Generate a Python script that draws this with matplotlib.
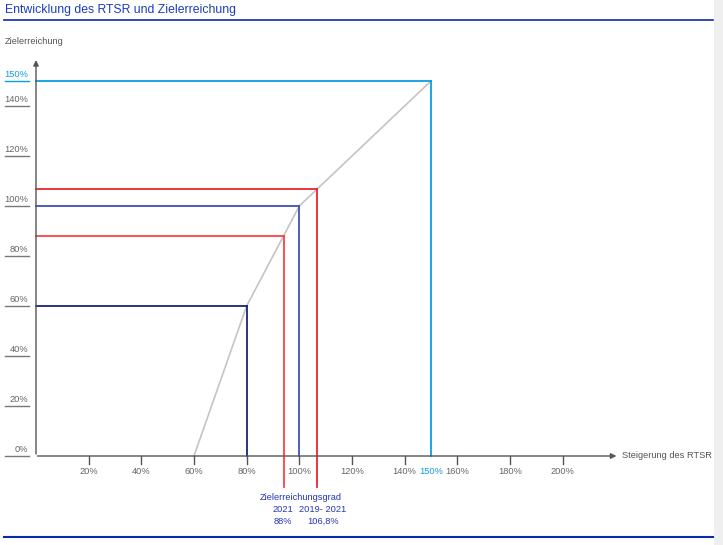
import matplotlib.pyplot as plt
from matplotlib.lines import Line2D

plt.rcParams['font.family'] = ['Liberation Sans', 'DejaVu Sans']

W, H = 723, 545

# RTSR curve (Steigerung des RTSR -> Zielerreichung)
curve_x = [60, 80, 100, 150]
curve_y = [0, 60, 100, 150]

# marked points on the curve
mark_x = [80, 94, 100, 106.8, 150]
mark_y = [60, 88, 100, 106.8, 150]
mark_colors = ["#1a237e", "#ff4040", "#3f51b5", "#e8262c", "#0a9ee0"]
mark_below = [False, True, False, True, False]

y_ticks = [0, 20, 40, 60, 80, 100, 120, 140]
x_ticks = [20, 40, 60, 80, 100, 120, 140, 160, 180, 200]
highlight = 150

fig = plt.figure(figsize=(W / 100, H / 100), dpi=100)
fig.patch.set_facecolor("white")


def fx(px):
    return px / W


def fy(py):
    return 1 - py / H


# axes: 0% at x=36px, 2.633 px per %; 0% at y=456px, 2.5 px per %
x0, y0 = 36, 456
sx, sy = 2.633, 2.5
xmax, ymax = 220, 160
ax = fig.add_axes([fx(x0), fy(y0), xmax * sx / W, ymax * sy / H])
ax.set_xlim(0, xmax)
ax.set_ylim(0, ymax)
ax.axis("off")

fs = 6.7

# the curve
ax.plot(curve_x, curve_y, color="#c4c4c4", lw=1.2, clip_on=False)

# guide lines for each marked point
for x, y, c, below in zip(mark_x, mark_y, mark_colors, mark_below):
    ax.plot([0, x], [y, y], color=c, lw=1.3, clip_on=False)
    ybot = -12.4 if below else 0
    ax.plot([x, x], [ybot, y], color=c, lw=1.3, clip_on=False)

# axes with arrows
axis_col = "#555555"
ax.annotate("", xy=(xmax + 1.5, 0), xytext=(-0.5, 0),
            arrowprops=dict(arrowstyle="-|>", color=axis_col, lw=1, mutation_scale=8),
            annotation_clip=False)
ax.annotate("", xy=(0, 159.5), xytext=(0, -0.3),
            arrowprops=dict(arrowstyle="-|>", color=axis_col, lw=1, mutation_scale=8),
            annotation_clip=False)

# x ticks
for t in x_ticks:
    ax.plot([t, t], [0, -3], color=axis_col, lw=1, clip_on=False)
    ax.text(t, -6, f"{t}%", ha="center", va="center", fontsize=fs, color="#666666")
ax.text(highlight, -6, f"{highlight}%", ha="center", va="center", fontsize=fs,
        color="#0a9ee0")

# y ticks: label above a short underline left of the axis
for t in y_ticks:
    py = y0 - t * sy
    fig.add_artist(Line2D([fx(5), fx(29)], [fy(py), fy(py)], color="#777777", lw=1))
    fig.text(fx(28), fy(py - 6.5), f"{t}%", ha="right", va="center", fontsize=fs,
             color="#666666")
py = y0 - highlight * sy
fig.add_artist(Line2D([fx(5), fx(29)], [fy(py), fy(py)], color="#0a9ee0", lw=1))
fig.text(fx(28), fy(py - 6.5), f"{highlight}%", ha="right", va="center", fontsize=fs,
         color="#0a9ee0")

# axis titles
fig.text(fx(5), fy(42), "Zielerreichung", ha="left", va="center", fontsize=fs,
         color="#555555")
fig.text(fx(622), fy(455), "Steigerung des RTSR", ha="left", va="center", fontsize=fs,
         color="#555555")

# legend-ish text under the axis
lab_col = "#2536b8"
fig.text(fx(301), fy(497), "Zielerreichungsgrad", ha="center", va="center",
         fontsize=fs, color=lab_col)
fig.text(fx(283), fy(510), "2021", ha="center", va="center", fontsize=fs, color=lab_col)
fig.text(fx(283), fy(521), "88%", ha="center", va="center", fontsize=fs, color=lab_col)
fig.text(fx(323), fy(510), "2019- 2021", ha="center", va="center", fontsize=fs,
         color=lab_col)
fig.text(fx(323), fy(521), "106,8%", ha="center", va="center", fontsize=fs,
         color=lab_col)

# title and frame lines
fig.text(fx(5), fy(10), "Entwicklung des RTSR und Zielerreichung", ha="left",
         va="center", fontsize=8.8, color="#1a3cc0")
fig.add_artist(Line2D([fx(4), fx(713)], [fy(20), fy(20)], color="#0a2aa8", lw=1.2))
fig.add_artist(Line2D([fx(4), fx(713)], [fy(537), fy(537)], color="#0a2aa8", lw=1.5))

# grey strip on the right
fig.add_artist(plt.Rectangle((fx(714), 0), fx(9), 1, color="#efefef", lw=0))

fig.savefig("out.png", dpi=100)
